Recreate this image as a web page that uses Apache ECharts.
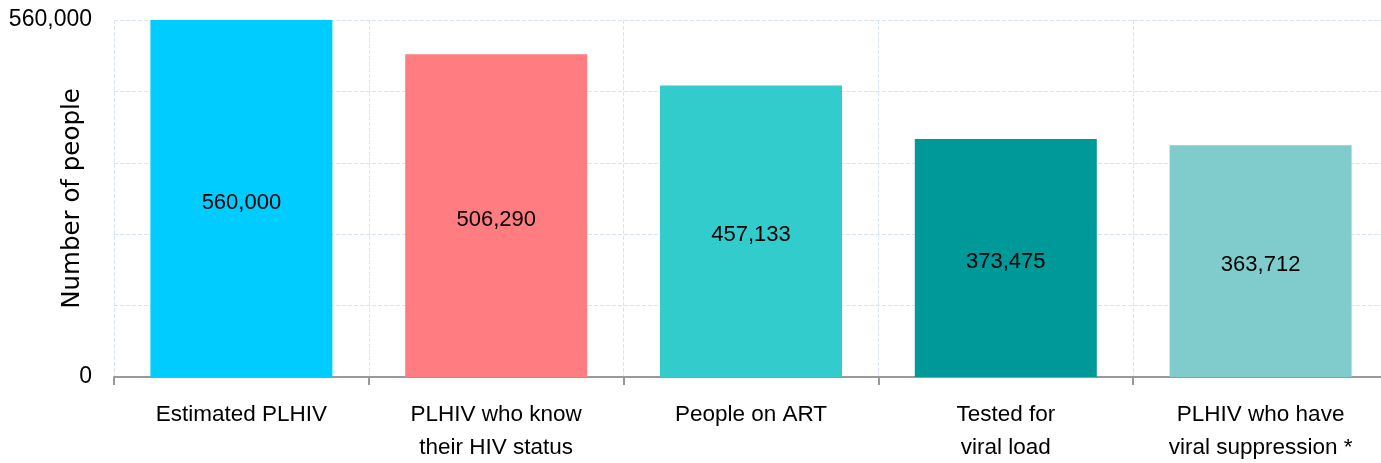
<!DOCTYPE html>
<html>
<head>
<meta charset="utf-8">
<script src="https://cdn.jsdelivr.net/npm/echarts@6/dist/echarts.min.js"></script>
<style>
  html, body { margin: 0; padding: 0; background: #fff; }
  #chart { width: 1381px; height: 463px; }
</style>
</head>
<body>
<div id="chart"></div>
<script>
const categories = ['Estimated PLHIV', 'PLHIV who know\ntheir HIV status', 'People on ART', 'Tested for\nviral load', 'PLHIV who have\nviral suppression *'];
const values = [560000, 506290, 457133, 373475, 363712];
const barColors = ['#00CCFF', '#FF7C80', '#33CCCC', '#009999', '#80CCCC'];
const yTicks = [0, 560000]; // only labels shown on the axis

const fmt = v => v.toLocaleString('en-US');
const font = '"Liberation Sans", Arial, sans-serif';

// bar data with per-bar colour
let barData = [];
for (let i = 0; i < values.length; i++) {
    barData.push({ value: values[i], itemStyle: { color: barColors[i] } });
}

const option = {
    animation: false,
    textStyle: { fontFamily: font },
    grid: { left: 114, right: -7, top: 20, bottom: 86, outerBoundsMode: 'none', containLabel: false },
    xAxis: {
        type: 'category',
        data: categories,
        axisLine: { lineStyle: { color: '#999', width: 2 } },
        axisTick: { show: true, length: 8, lineStyle: { color: '#999', width: 2 } },
        axisLabel: { color: '#000', fontSize: 22.5, lineHeight: 33, margin: 21, interval: 0 },
        splitLine: { show: true, lineStyle: { color: '#d5e5f7', type: 'dashed', width: 1 } }
    },
    yAxis: {
        type: 'value',
        min: 0,
        max: 560000,
        interval: 112000,
        name: 'Number of people',
        nameLocation: 'middle',
        nameGap: 29,
        nameMoveOverlap: false,
        nameTextStyle: { color: '#000', fontSize: 24.5, fontFamily: '"DejaVu Sans", sans-serif' },
        axisLine: { show: false },
        axisTick: { show: false },
        axisLabel: {
            color: '#000', fontSize: 23, margin: 22,
            formatter: v => yTicks.indexOf(v) >= 0 ? fmt(v) : ''
        },
        splitLine: { lineStyle: { color: '#d5e5f7', type: 'dashed', width: 1 } }
    },
    series: [{
        type: 'bar',
        data: barData,
        barWidth: 182,
        label: {
            show: true,
            position: 'inside',
            offset: [0, 4],
            color: '#000',
            fontSize: 22,
            formatter: p => fmt(p.value)
        }
    }]
};

echarts.init(document.getElementById('chart')).setOption(option);
</script>
</body>
</html>
